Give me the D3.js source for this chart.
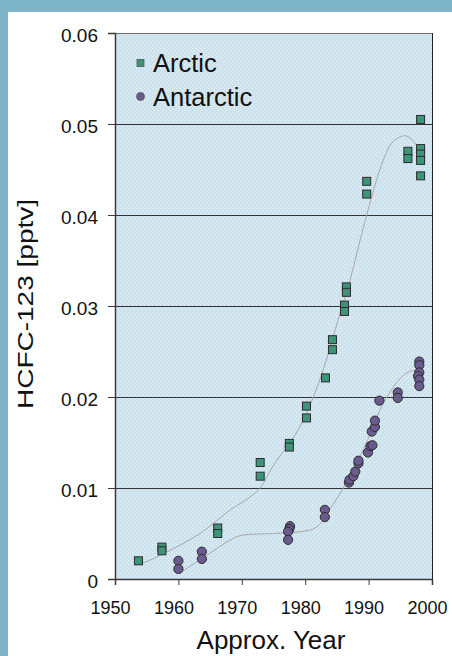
<!DOCTYPE html>
<html><head><meta charset="utf-8">
<script src="https://cdn.jsdelivr.net/npm/d3@7"></script>
<style>html,body{margin:0;padding:0;background:#7db4c8;}svg{display:block;}</style>
</head><body>
<svg id="c" width="452" height="656"></svg>
<script>
const arcticYear = [1953.7,1957.4,1957.4,1966.2,1966.2,1972.9,1972.9,1977.5,1977.5,1980.2,1980.2,1983.2,1984.3,1984.3,1986.5,1986.5,1986.2,1986.2,1989.7,1989.7,1996.2,1996.2,1998.2,1998.2,1998.2,1998.2,1998.2];
const arcticValue = [0.0020,0.0035,0.0031,0.0056,0.0050,0.0128,0.0113,0.0149,0.0145,0.0190,0.0177,0.0221,0.0263,0.0252,0.0321,0.0315,0.0301,0.0294,0.0437,0.0423,0.0470,0.0462,0.0505,0.0473,0.0467,0.0460,0.0443];
const antarcticYear = [1960.0,1960.0,1963.7,1963.7,1977.6,1977.5,1977.3,1977.3,1983.1,1983.1,1986.9,1987.0,1987.6,1987.9,1988.4,1988.4,1989.9,1990.3,1990.6,1990.5,1991.0,1991.0,1991.7,1994.6,1994.6,1998.0,1998.0,1998.0,1997.8,1998.0,1998.0];
const antarcticValue = [0.0020,0.0011,0.0030,0.0022,0.0058,0.0055,0.0052,0.0043,0.0076,0.0068,0.0106,0.0109,0.0113,0.0118,0.0127,0.0130,0.0139,0.0146,0.0147,0.0162,0.0167,0.0174,0.0196,0.0205,0.0199,0.0239,0.0235,0.0227,0.0223,0.0219,0.0212];
const arcticTrendYear = [1953.5,1954.5,1957.7,1963.4,1968.2,1971.3,1972.9,1975.0,1978.9,1982.1,1985.5,1987.1,1988.4,1989.7,1992.3,1993.9,1995.9,1997.3,1998.0];
const arcticTrendValue = [0.0017,0.0018,0.0028,0.0050,0.0076,0.0090,0.0100,0.0125,0.0164,0.0215,0.0292,0.0329,0.0365,0.0400,0.0460,0.0481,0.0487,0.0479,0.0470];
const antarcticTrendYear = [1960.5,1964.5,1968.2,1970.0,1975.0,1979.2,1981.8,1984.4,1986.5,1988.6,1990.5,1992.3,1995.5,1997.3,1998.0];
const antarcticTrendValue = [0.0008,0.0026,0.0043,0.0048,0.0050,0.0052,0.0057,0.0082,0.0106,0.0134,0.0163,0.0193,0.0224,0.0229,0.0224];
const xTicks = [1950,1960,1970,1980,1990,2000];
const yTicks = [0,0.01,0.02,0.03,0.04,0.05,0.06];
const seriesNames = ["Arctic","Antarctic"];
const xTitle = "Approx. Year";
const yTitle = "HCFC-123 [pptv]";

const svg = d3.select("#c");
const font = "Liberation Sans, Arial, sans-serif";
svg.append("rect").attr("x",8).attr("y",12).attr("width",452-8).attr("height",656-12).attr("fill","#ffffff");

const L=115, R=432, T=33, B=579;
const x = d3.scaleLinear().domain([1950,2000]).range([L,R]);
const y = d3.scaleLinear().domain([0,0.06]).range([B,T]);

const defs = svg.append("defs");
const pat = defs.append("pattern").attr("id","dots").attr("patternUnits","userSpaceOnUse").attr("width",4).attr("height",4);
pat.append("rect").attr("width",4).attr("height",4).attr("fill","#cce2ee");
pat.append("rect").attr("x",0).attr("y",0).attr("width",1).attr("height",1).attr("fill","#eef6fa");
pat.append("rect").attr("x",2).attr("y",2).attr("width",1).attr("height",1).attr("fill","#eef6fa");

svg.append("rect").attr("x",L).attr("y",T).attr("width",R-L).attr("height",B-T).attr("fill","url(#dots)");

svg.append("g").selectAll("line").data(yTicks.filter(d=>d>0 && d<0.06)).join("line")
  .attr("x1",L).attr("x2",R).attr("y1",d=>Math.round(y(d))+0.5).attr("y2",d=>Math.round(y(d))+0.5)
  .attr("stroke","#333").attr("stroke-width",1);
svg.append("line").attr("x1",L).attr("x2",R).attr("y1",T+0.5).attr("y2",T+0.5).attr("stroke","#6e6e6e").attr("stroke-width",1.2);
svg.append("line").attr("x1",R+0.5).attr("x2",R+0.5).attr("y1",T).attr("y2",B).attr("stroke","#222").attr("stroke-width",1);

const yAxis = d3.axisLeft(y).tickValues(yTicks).tickSize(7).tickPadding(10)
  .tickFormat(d=> d===0 ? "0" : d3.format(".2f")(d));
const gy = svg.append("g").attr("transform",`translate(${L},0)`).call(yAxis);
gy.select(".domain").attr("stroke","#3a3a3a").attr("stroke-width",1.5);
gy.selectAll(".tick line").attr("stroke","#3a3a3a");
gy.selectAll("text").attr("font-family",font).attr("font-size",19).attr("fill","#111").attr("dy","0.45em");

const xAxis = d3.axisBottom(x).tickValues(xTicks).tickSize(6).tickPadding(16).tickFormat(d3.format("d"));
const gx = svg.append("g").attr("transform",`translate(0,${B})`).call(xAxis);
gx.select(".domain").attr("stroke","#3a3a3a").attr("stroke-width",1.5);
gx.selectAll(".tick line").attr("stroke","#3a3a3a");
gx.selectAll("text").attr("font-family",font).attr("font-size",18).attr("fill","#111").attr("dx",-5);

const line = d3.line().x(d=>x(d[0])).y(d=>y(d[1])).curve(d3.curveCatmullRom.alpha(0.5));
svg.append("path").attr("d",line(d3.zip(arcticTrendYear,arcticTrendValue))).attr("fill","none").attr("stroke","#a8a8a8").attr("stroke-width",1);
svg.append("path").attr("d",line(d3.zip(antarcticTrendYear,antarcticTrendValue))).attr("fill","none").attr("stroke","#a8a8a8").attr("stroke-width",1);

const sq = 8;
svg.append("g").selectAll("rect").data(d3.zip(arcticYear,arcticValue)).join("rect")
  .attr("x",d=>x(d[0])-sq/2).attr("y",d=>y(d[1])-sq/2).attr("width",sq).attr("height",sq)
  .attr("fill","#3d9479").attr("stroke","#2b2b2b").attr("stroke-width",1);
svg.append("g").selectAll("circle").data(d3.zip(antarcticYear,antarcticValue)).join("circle")
  .attr("cx",d=>x(d[0])).attr("cy",d=>y(d[1])).attr("r",4.6)
  .attr("fill","#6b5a8e").attr("stroke","#2b2b2b").attr("stroke-width",1);

const lg = svg.append("g");
lg.append("rect").attr("x",137).attr("y",59.5).attr("width",7).attr("height",7).attr("fill","#3d9479").attr("stroke","#555").attr("stroke-width",0.8);
lg.append("circle").attr("cx",140.5).attr("cy",96.5).attr("r",4).attr("fill","#6b5a8e").attr("stroke","#555").attr("stroke-width",0.8);
lg.selectAll("text").data(seriesNames).join("text")
  .attr("x",153).attr("y",(d,i)=>72+i*34).text(d=>d)
  .attr("font-family",font).attr("font-size",25.5).attr("fill","#111");

svg.append("text").attr("x",271).attr("y",649).attr("text-anchor","middle").text(xTitle)
  .attr("font-family",font).attr("font-size",26).attr("fill","#111");
svg.append("text").attr("transform","translate(33,304) rotate(-90) scale(1.12,0.86)").attr("text-anchor","middle").text(yTitle)
  .attr("font-family",font).attr("font-size",25).attr("fill","#111");
</script>
</body></html>
